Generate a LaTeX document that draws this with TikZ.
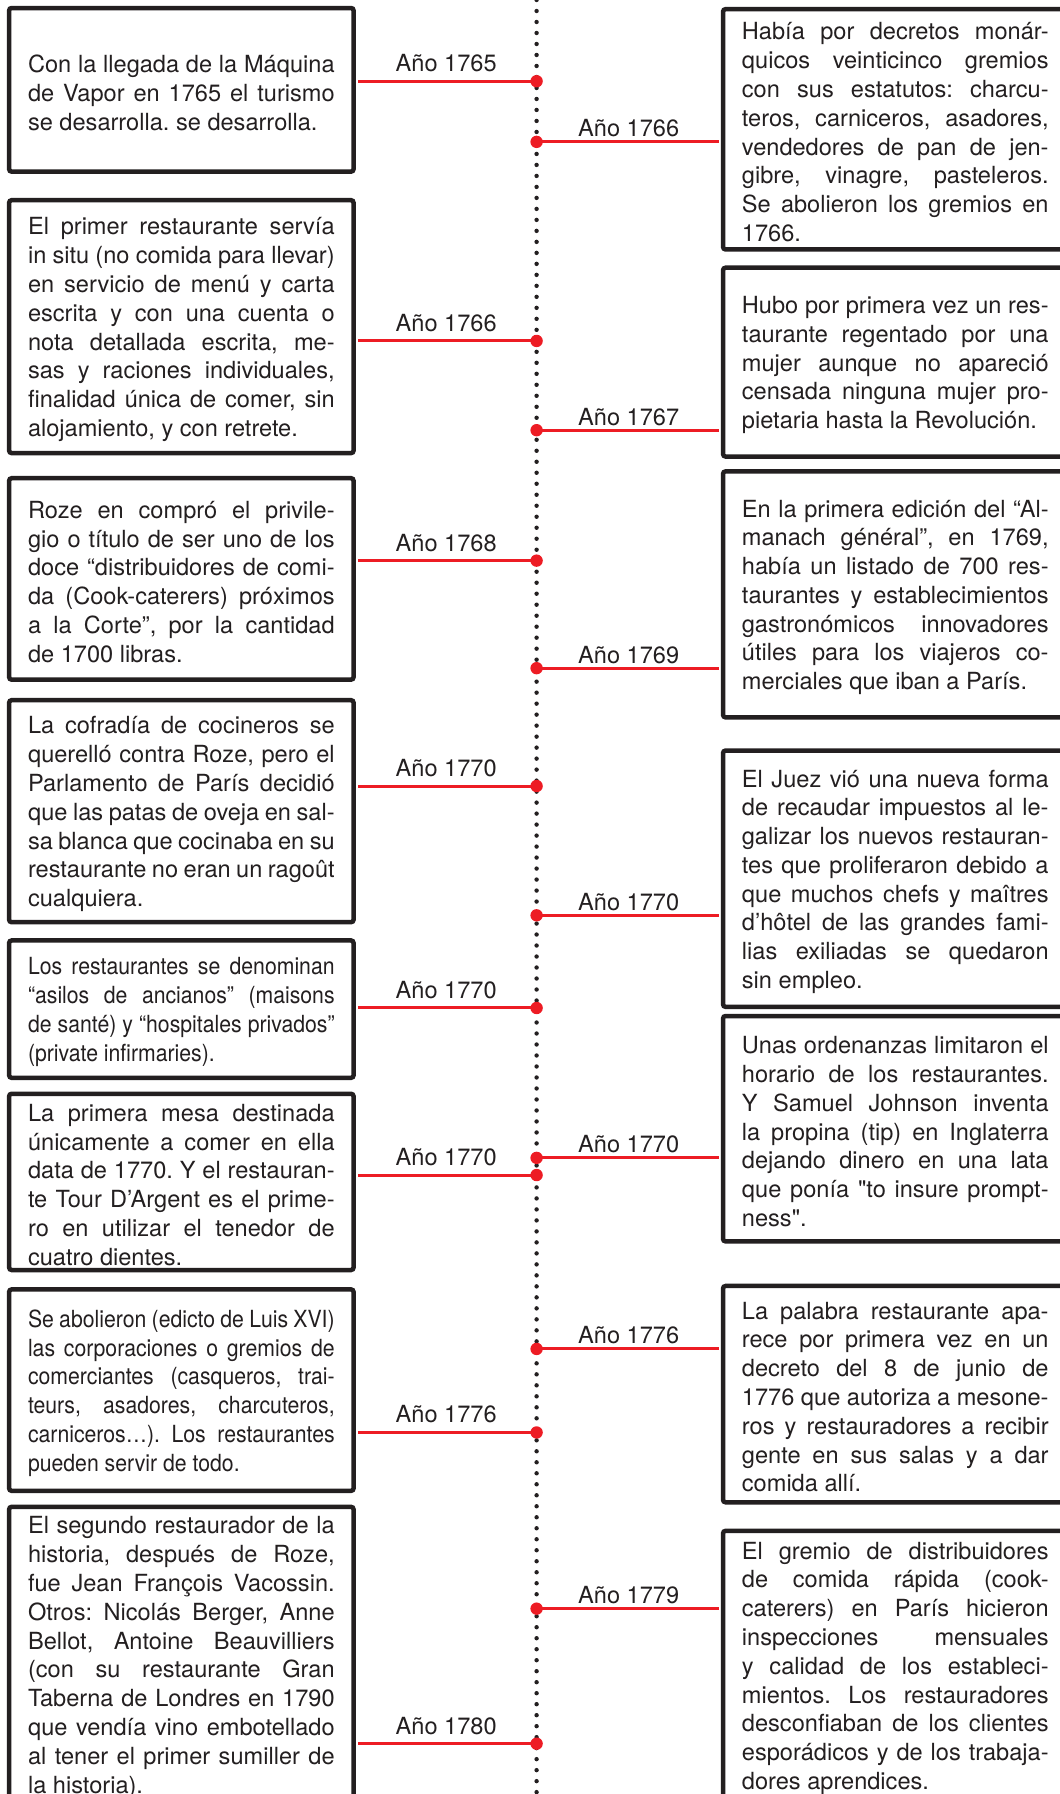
\documentclass[tikz,border=0pt]{standalone}
\usepackage{fontspec}
\setmainfont{TeX Gyre Heros}
\newfontfamily\condfont{TeX Gyre Heros}[FakeStretch=0.9]
\definecolor{ink}{HTML}{231F20}
\definecolor{tlred}{HTML}{ED1C24}
% body size and line spacing
\newcommand\bodysize{\fontsize{23.6pt}{28.8pt}\selectfont}
% a justified full line, and a closing line at natural width
% (the closing kern lowers the text block a little inside its box)
\newcommand\jl[1]{\noindent\hbox to\hsize{\spaceskip=0pt\xspaceskip=0pt #1}\par}
\newcommand\el[1]{\noindent{\spaceskip=0pt\xspaceskip=0pt #1}\par\kern-6pt}
\frenchspacing
\begin{document}
\begin{tikzpicture}[x=1.1447pt, y=-1.1447pt,
  box/.style={draw=ink, line width=4.5pt, rounded corners=2.5pt, fill=white,
    text=ink, text width=306.8pt, inner xsep=18.9pt, inner ysep=0pt,
    align=justify, font=\bodysize},
  lbox/.style={box, anchor=center},
  rbox/.style={box, anchor=west},
  cond/.style={font=\condfont\bodysize},
  conn/.style={draw=tlred, line width=3pt},
  reddot/.style={fill=tlred},
  year/.style={text=ink, font=\bodysize, inner sep=0pt, anchor=base},
  timeline/.style={draw=ink, line width=4.4pt, line cap=round, dash pattern=on 0pt off 11pt}]
\useasboundingbox (0,0) rectangle (926,1568);

% ---------- left column ----------
\node[lbox, minimum height=163.7pt] (L1) at (158.5,78.5) {%
\jl{Con la llegada de la Máquina}\jl{de Vapor en 1765 el turismo}\el{se desarrolla. se desarrolla.}};

\node[lbox, minimum height=253.0pt] (L2) at (158.5,285.5) {%
\jl{El primer restaurante servía}\jl{in situ (no comida para llevar)}\jl{en servicio de menú y carta}\jl{escrita y con una cuenta o}\jl{nota detallada escrita, me-}\jl{sas y raciones individuales,}\jl{finalidad única de comer, sin}\el{alojamiento, y con retrete.}};

\node[lbox, minimum height=201.5pt] (L3) at (158.5,506) {%
\jl{Roze en compró el privile-}\jl{gio o título de ser uno de los}\jl{doce “distribuidores de comi-}\jl{da (Cook-caterers) próximos}\jl{a la Corte”, por la cantidad}\el{de 1700 libras.}};

\node[lbox, minimum height=222.1pt] (L4) at (158.5,709) {%
\jl{La cofradía de cocineros se}\jl{querelló contra Roze, pero el}\jl{Parlamento de París decidió}\jl{que las patas de oveja en sal-}\jl{sa blanca que cocinaba en su}\jl{restaurante no eran un ragoût}\el{cualquiera.}};

\node[lbox, cond, minimum height=137.4pt] (L5) at (158.5,882) {%
\jl{Los restaurantes se denominan}\jl{“asilos de ancianos” (maisons}\jl{de santé) y “hospitales privados”}\el{(private infirmaries).}};

\node[lbox, minimum height=176.3pt] (L6) at (158.5,1033) {%
\jl{La primera mesa destinada}\jl{únicamente a comer en ella}\jl{data de 1770. Y el restauran-}\jl{te Tour D’Argent es el prime-}\jl{ro en utilizar el tenedor de}\el{cuatro dientes.}};

\node[lbox, cond, minimum height=201.5pt] (L7) at (158.5,1215) {%
\jl{Se abolieron (edicto de Luis XVI)}\jl{las corporaciones o gremios de}\jl{comerciantes (casqueros, trai-}\jl{teurs, asadores, charcuteros,}\jl{carniceros…). Los restaurantes}\el{pueden servir de todo.}};

\node[lbox, minimum height=295.3pt] (L8) at (158.5,1446) {%
\jl{El segundo restaurador de la}\jl{historia, después de Roze,}\jl{fue Jean François Vacossin.}\jl{Otros: Nicolás Berger, Anne}\jl{Bellot, Antoine Beauvilliers}\jl{(con su restaurante Gran}\jl{Taberna de Londres en 1790}\jl{que vendía vino embotellado}\jl{al tener el primer sumiller de}\el{la historia).}};

% ---------- right column ----------
\node[rbox, minimum height=240.4pt] (R1) at (630,113) {%
\jl{Había por decretos monár-}\jl{quicos veinticinco gremios}\jl{con sus estatutos: charcu-}\jl{teros, carniceros, asadores,}\jl{vendedores de pan de jen-}\jl{gibre, vinagre, pasteleros.}\jl{Se abolieron los gremios en}\el{1766.}};

\node[rbox, minimum height=188.9pt] (R2) at (630,316.5) {%
\jl{Hubo por primera vez un res-}\jl{taurante regentado por una}\jl{mujer aunque no apareció}\jl{censada ninguna mujer pro-}\el{pietaria hasta la Revolución.}};

\node[rbox, minimum height=246.1pt] (R3) at (630,519.5) {%
\jl{En la primera edición del “Al-}\jl{manach général”, en 1769,}\jl{había un listado de 700 res-}\jl{taurantes y establecimientos}\jl{gastronómicos innovadores}\jl{útiles para los viajeros co-}\el{merciales que iban a París.}};

\node[rbox, minimum height=256.4pt] (R4) at (630,768) {%
\jl{El Juez vió una nueva forma}\jl{de recaudar impuestos al le-}\jl{galizar los nuevos restauran-}\jl{tes que proliferaron debido a}\jl{que muchos chefs y maîtres}\jl{d’hôtel de las grandes fami-}\jl{lias exiliadas se quedaron}\el{sin empleo.}};

\node[rbox, minimum height=225.5pt] (R5) at (630,986.5) {%
\jl{Unas ordenanzas limitaron el}\jl{horario de los restaurantes.}\jl{Y Samuel Johnson inventa}\jl{la propina (tip) en Inglaterra}\jl{dejando dinero en una lata}\jl{que ponía \textquotedbl to insure prompt-}\el{ness\textquotedbl.}};

\node[rbox, minimum height=216.4pt] (R6) at (630,1218.5) {%
\jl{La palabra restaurante apa-}\jl{rece por primera vez en un}\jl{decreto del 8 de junio de}\jl{1776 que autoriza a mesone-}\jl{ros y restauradores a recibir}\jl{gente en sus salas y a dar}\el{comida allí.}};

\node[rbox, minimum height=269.0pt] (R7) at (630,1455.5) {%
\jl{El gremio de distribuidores}\jl{de comida rápida (cook-}\jl{caterers) en París hicieron}\jl{inspecciones mensuales}\jl{y calidad de los estableci-}\jl{mientos. Los restauradores}\jl{desconfiaban de los clientes}\jl{esporádicos y de los trabaja-}\el{dores aprendices.}};

% ---------- timeline ----------
\coordinate (top) at (469,0);
\coordinate (bottom) at (469,1568);
\draw[timeline] (top) -- (bottom);

% left connectors: box, dot position, label
\foreach \b/\yy/\lab in {L1/71/Año 1765, L2/298/Año 1766, L3/490/Año 1768,
    L4/687/Año 1770, L5/881/Año 1770, L6/1027/Año 1770,
    L7/1252/Año 1776, L8/1524/Año 1780}{
  \coordinate (d\b) at (469,\yy);
  \draw[conn, shorten <=2.2pt] (\b.east |- d\b) -- (d\b)
    node[year, midway, yshift=9.5pt] (t\b) {\lab};
  \fill[reddot] (d\b) circle[radius=6.2pt];
}

% right connectors
\foreach \b/\yy/\lab in {R1/124/Año 1766, R2/376/Año 1767, R3/584/Año 1769,
    R4/800/Año 1770, R5/1012/Año 1770, R6/1179/Año 1776, R7/1406/Año 1779}{
  \coordinate (d\b) at (469,\yy);
  \draw[conn, shorten >=2.2pt] (d\b) -- (\b.west |- d\b)
    node[year, midway, yshift=5pt] (t\b) {\lab};
  \fill[reddot] (d\b) circle[radius=6.2pt];
}
\end{tikzpicture}
\end{document}
